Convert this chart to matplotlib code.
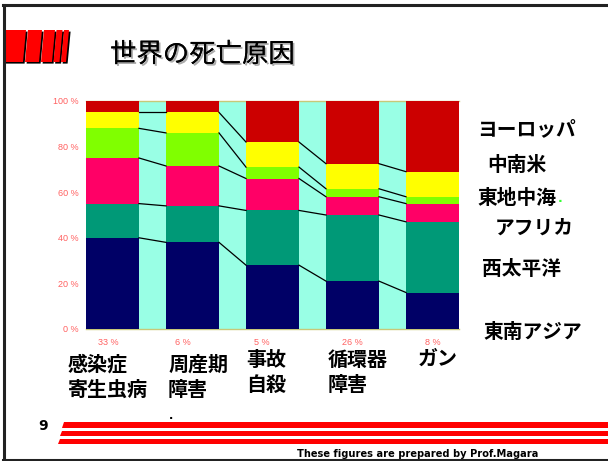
import matplotlib
matplotlib.use("Agg")
import matplotlib.pyplot as plt
import matplotlib.patheffects as pe
from matplotlib.patches import Polygon
from matplotlib.lines import Line2D
import numpy as np

W, H = 608, 461

# causes of death (bottom labels) and their share of all deaths
causes = [["感染症", "寄生虫病"], ["周産期", "障害"], ["事故", "自殺"], ["循環器", "障害"], ["ガン"]]
cause_share = ["33 %", "6 %", "5 %", "26 %", "8 %"]

# regions, stacked bottom to top
regions = ["東南アジア", "西太平洋", "アフリカ", "東地中海", "中南米", "ヨーロッパ"]
region_colors = ["#000066", "#009977", "#FF0066", "#80FF00", "#FFFF00", "#CC0000"]

# percent of each cause's deaths by region
se_asia = [40, 38, 28, 21, 16]
w_pacific = [15, 16, 24, 29, 31]
africa = [20, 17.5, 14, 8, 8]
e_med = [13, 14.5, 5, 3.5, 3]
latin_am = [7, 9, 11, 11, 11]
europe = [5, 5, 18, 27.5, 31]
series = [se_asia, w_pacific, africa, e_med, latin_am, europe]

y_ticks = [0, 20, 40, 60, 80, 100]

CJK = ["Noto Sans CJK JP", "DejaVu Sans"]


def fx(px):
    return px / W


def fy(py):
    return 1 - py / H


fig = plt.figure(figsize=(W / 100, H / 100), dpi=100)

# slide frame
frame = dict(color="#222222", lw=2.2, transform=fig.transFigure)
fig.add_artist(Line2D([fx(4), fx(4)], [fy(5), fy(460)], **frame))
fig.add_artist(Line2D([fx(3), 1], [fy(5.5), fy(5.5)], **frame))
fig.add_artist(Line2D([fx(3), 1], [fy(460), fy(460)], **frame))

# red stripe logo top left
for x0, x1 in [(5, 23), (25, 39), (41, 52), (53.5, 59.5), (61, 66)]:
    for dx, col in [(1.6, "black"), (0, "#FF0000")]:
        pts = [(x0 + dx if x0 > 5 else x0, 62 + dx), (x1 + dx, 62 + dx), (x1 + 3 + dx, 30 + dx),
               ((x0 + 3 + dx) if x0 > 5 else x0, 30 + dx)]
        fig.add_artist(Polygon([(fx(a), fy(b)) for a, b in pts], closed=True, facecolor=col,
                               edgecolor="none", transform=fig.transFigure))

# title with drop shadow
fig.text(fx(110), fy(62), "世界の死亡原因", fontsize=19, family=CJK, ha="left", va="baseline",
         path_effects=[pe.withSimplePatchShadow(offset=(1.3, -1.3), shadow_rgbFace="#888888", alpha=0.7),
                       pe.Normal()])

# stacked columns
ax = fig.add_axes([fx(86), fy(329), (459 - 86) / W, (329 - 101) / H])
ax.set_facecolor("#99FFE5")
x = np.arange(len(causes))
width = 53 / 80
bottom = np.zeros(len(causes))
tops = []
for vals, col in zip(series, region_colors):
    vals = np.array(vals, dtype=float)
    ax.bar(x, vals, width, bottom=bottom, color=col, linewidth=0, zorder=3)
    bottom = bottom + vals
    tops.append(bottom.copy())

# series lines between columns
for top in tops[:-1]:
    for i in range(len(x) - 1):
        ax.plot([x[i] + width / 2, x[i + 1] - width / 2], [top[i], top[i + 1]],
                color="black", lw=0.9, zorder=4)

ax.set_xlim(-width / 2, x[-1] + width / 2)
ax.set_ylim(0, 100)
ax.set_xticks([])
ax.set_yticks(y_ticks)
ax.set_yticklabels([f"{v} %" for v in y_ticks], color="#FF6060", fontsize=6.5, family="Liberation Sans")
ax.tick_params(axis="y", length=0, pad=5)
for side in ["left", "right"]:
    ax.spines[side].set_visible(False)
for side in ["top", "bottom"]:
    ax.spines[side].set_color("#C8C878")
    ax.spines[side].set_linewidth(1)

# share of each cause under the columns
for share, px in zip(cause_share, [108, 183, 262, 352, 433]):
    fig.text(fx(px), fy(344.5), share, color="#FF6060", fontsize=6.5, family="Liberation Sans",
             ha="center", va="baseline")

# cause names
label_x = [68, 168, 246, 328, 418]
label_y = [363, 363, 358, 358, 357]
for lines, px, py in zip(causes, label_x, label_y):
    for k, line in enumerate(lines):
        fig.text(fx(px), fy(py + 7.6 + k * 25.5), line, fontsize=14.4, fontweight="bold", family=CJK,
                 ha="left", va="baseline")
fig.text(fx(169), fy(418.5), ".", fontsize=8, fontweight="bold", color="black", ha="left", va="baseline")

# region names on the right, top to bottom
legend_pos = [(483, 330), (482, 267), (495, 226), (477, 196), (487, 163), (477, 128)]
for name, (px, py) in zip(regions, legend_pos):
    fig.text(fx(px), fy(py + 7.6), name, fontsize=14.2, fontweight="bold", family=CJK,
             ha="left", va="baseline")
fig.text(fx(557.5), fy(201.5), ".", fontsize=9, fontweight="bold", color="#33FF33", ha="left", va="baseline")

# page number and footer stripes
fig.text(fx(43), fy(430), "9", fontsize=10, fontweight="bold", ha="center", va="baseline")
for y0, y1 in [(422, 428), (430.5, 436), (438.5, 444)]:
    xl0 = 64 - (y0 - 422) * 6 / 22
    xl1 = 64 - (y1 - 422) * 6 / 22
    pts = [(xl0, y0), (W, y0), (W, y1), (xl1, y1)]
    fig.add_artist(Polygon([(fx(a), fy(b)) for a, b in pts], closed=True, facecolor="#FF0000",
                           edgecolor="none", transform=fig.transFigure))

fig.text(fx(297), fy(457), "These figures are prepared by Prof.Magara", fontsize=7.15,
         fontweight="bold", ha="left", va="baseline")

fig.savefig("out.png", dpi=100)
